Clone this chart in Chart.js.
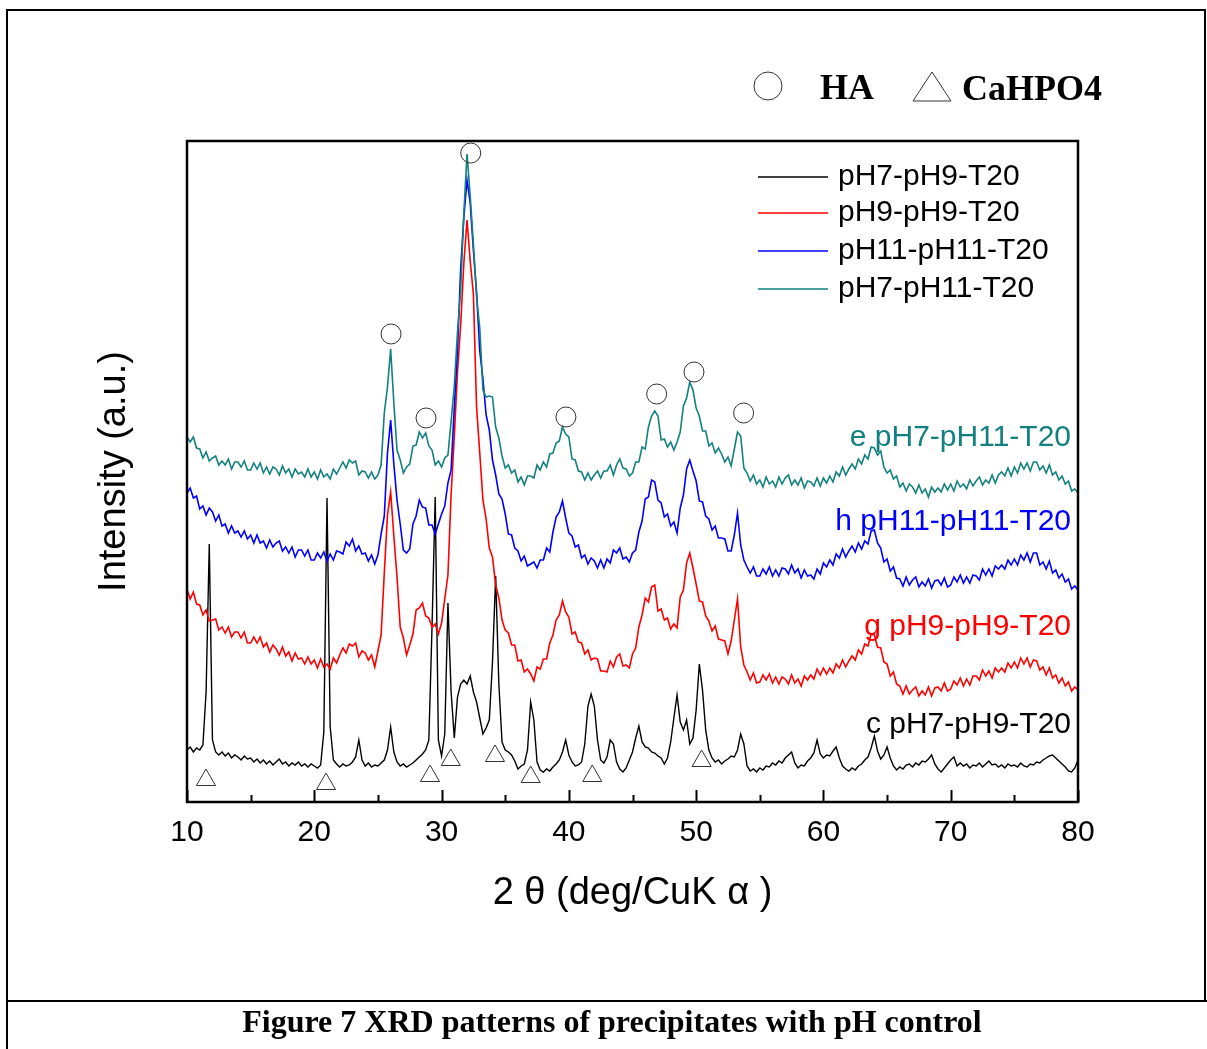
<!DOCTYPE html>
<html>
<head>
<meta charset="UTF-8">
<title>Figure 7 XRD patterns of precipitates with pH control</title>
<script src="https://cdn.jsdelivr.net/npm/chart.js"></script>
<style>
  body { margin: 0; padding: 0; background: #fff; }
  #wrap { width: 1207px; height: 1049px; }
</style>
</head>
<body>
<div id="wrap"><canvas id="xrd" width="1207" height="1049"></canvas></div>
<script>
// 2 theta sampling (deg), every 0.25
var twoTheta = [
  10,10.25,10.5,10.75,11,11.25,11.5,11.75,12,12.25,12.5,12.75,13,13.25,13.5,13.75,14,14.25,14.5,14.75,
  15,15.25,15.5,15.75,16,16.25,16.5,16.75,17,17.25,17.5,17.75,18,18.25,18.5,18.75,19,19.25,19.5,19.75,
  20,20.25,20.5,20.75,21,21.25,21.5,21.75,22,22.25,22.5,22.75,23,23.25,23.5,23.75,24,24.25,24.5,24.75,
  25,25.25,25.5,25.75,26,26.25,26.5,26.75,27,27.25,27.5,27.75,28,28.25,28.5,28.75,29,29.25,29.5,29.75,
  30,30.25,30.5,30.75,31,31.25,31.5,31.75,32,32.25,32.5,32.75,33,33.25,33.5,33.75,34,34.25,34.5,34.75,
  35,35.25,35.5,35.75,36,36.25,36.5,36.75,37,37.25,37.5,37.75,38,38.25,38.5,38.75,39,39.25,39.5,39.75,
  40,40.25,40.5,40.75,41,41.25,41.5,41.75,42,42.25,42.5,42.75,43,43.25,43.5,43.75,44,44.25,44.5,44.75,
  45,45.25,45.5,45.75,46,46.25,46.5,46.75,47,47.25,47.5,47.75,48,48.25,48.5,48.75,49,49.25,49.5,49.75,
  50,50.25,50.5,50.75,51,51.25,51.5,51.75,52,52.25,52.5,52.75,53,53.25,53.5,53.75,54,54.25,54.5,54.75,
  55,55.25,55.5,55.75,56,56.25,56.5,56.75,57,57.25,57.5,57.75,58,58.25,58.5,58.75,59,59.25,59.5,59.75,
  60,60.25,60.5,60.75,61,61.25,61.5,61.75,62,62.25,62.5,62.75,63,63.25,63.5,63.75,64,64.25,64.5,64.75,
  65,65.25,65.5,65.75,66,66.25,66.5,66.75,67,67.25,67.5,67.75,68,68.25,68.5,68.75,69,69.25,69.5,69.75,
  70,70.25,70.5,70.75,71,71.25,71.5,71.75,72,72.25,72.5,72.75,73,73.25,73.5,73.75,74,74.25,74.5,74.75,
  75,75.25,75.5,75.75,76,76.25,76.5,76.75,77,77.25,77.5,77.75,78,78.25,78.5,78.75,79,79.25,79.5,79.75,
  80
];

// intensities (a.u., offset traces as plotted)
var pH7pH9 = [
  52,55,50,54,52,57,110,258,62,50,47,50,46,49,44,47,45,42,46,43,
  44,40,43,39,42,38,41,37,40,43,38,40,36,39,37,40,36,38,35,38,
  36,34,37,70,304,75,42,38,35,38,36,37,40,45,62,42,36,39,35,37,
  36,39,42,52,75,50,40,36,38,35,37,39,42,45,48,52,62,175,305,62,
  46,68,199,110,64,105,118,122,118,126,110,100,84,68,74,82,140,226,118,60,
  52,50,47,41,33,36,38,52,100,82,40,32,30,33,31,35,38,42,50,62,
  47,40,36,37,40,58,96,108,96,62,42,39,45,62,58,40,33,30,34,42,
  50,64,76,60,55,54,50,49,46,44,38,44,60,84,107,80,72,82,58,64,
  92,138,112,72,52,44,40,42,38,41,43,46,45,52,68,58,36,31,33,30,
  34,32,36,35,39,37,41,39,44,47,50,39,34,37,36,41,44,49,62,48,
  44,47,46,51,55,44,36,33,31,34,32,36,38,42,45,54,66,51,43,47,
  55,44,36,32,35,33,37,38,35,39,37,41,40,43,47,38,33,30,34,38,
  42,45,36,39,36,38,34,37,36,39,35,38,41,37,38,35,37,34,38,36,
  37,35,39,36,35,38,37,40,39,42,44,46,47,44,41,38,35,31,30,34,
  42
];
var pH9pH9 = [
  213,203,210,198,197,187,192,181,182,183,172,175,169,175,165,170,170,164,170,159,
  159,165,159,165,155,159,150,157,153,147,155,146,150,141,149,143,144,138,145,138,
  142,134,143,135,138,133,144,139,147,154,149,158,156,159,145,151,149,142,147,135,
  151,167,229,287,310,266,225,175,164,147,157,168,192,194,199,186,184,175,178,168,
  179,203,227,308,366,430,477,539,582,541,508,395,349,302,283,254,245,217,204,182,
  172,169,157,157,141,142,130,133,128,121,135,133,143,143,159,167,182,187,201,190,
  185,168,170,160,159,148,152,142,144,143,131,131,130,141,135,145,148,136,137,134,
  148,154,175,187,204,200,215,217,191,193,182,184,173,178,174,205,212,239,249,234,
  218,201,200,186,181,171,176,163,162,161,148,161,182,203,155,137,130,122,129,119,
  120,127,122,128,119,125,118,125,123,118,127,119,123,116,126,122,127,123,133,127,
  134,128,134,129,138,134,142,135,141,146,142,152,148,158,156,168,167,155,154,140,
  138,126,130,118,116,108,116,108,112,115,106,111,107,115,106,114,115,111,119,111,
  113,121,117,124,116,123,117,126,126,122,132,126,131,124,134,130,134,130,139,134,
  140,134,144,138,144,135,142,141,132,135,127,134,124,127,119,124,116,120,111,115,
  112
];
var pH11pH11 = [
  309,314,304,306,293,296,287,294,290,281,287,276,278,269,276,269,271,265,271,263,
  267,259,267,259,261,254,262,255,259,261,251,255,249,255,245,252,252,246,252,242,
  242,249,244,250,241,248,242,251,250,248,260,256,263,251,256,248,249,241,247,238,
  247,268,286,349,382,338,302,278,252,249,253,278,286,302,295,294,277,277,268,278,
  288,296,319,332,395,451,533,585,622,599,552,510,451,423,387,372,342,327,308,303,
  288,268,267,254,251,241,246,236,238,240,234,242,242,254,250,270,285,290,301,284,
  269,266,255,257,244,247,238,244,241,234,242,234,243,239,252,249,254,243,245,240,
  249,252,270,281,303,305,322,320,302,299,285,288,276,280,269,294,307,333,342,331,
  321,301,300,286,283,272,276,264,264,263,251,251,267,289,257,242,235,229,235,226,
  226,233,228,235,226,232,226,234,233,228,237,229,233,224,232,226,227,223,233,228,
  239,235,242,237,248,244,253,245,251,256,250,259,253,261,258,271,272,259,254,240,
  243,231,235,224,223,216,225,217,222,225,215,220,216,223,214,221,222,217,224,215,
  217,225,220,227,219,225,219,227,226,222,233,227,233,226,236,233,237,233,242,237,
  243,237,247,242,249,240,249,249,237,240,233,241,229,232,224,228,220,223,213,216,
  212
];
var pH7pH11 = [
  365,360,365,354,353,344,350,341,344,346,337,341,337,343,333,340,340,335,341,332,
  332,339,333,339,329,335,328,335,333,327,336,329,333,325,333,328,330,325,333,325,
  330,323,332,325,328,323,333,328,334,340,334,342,339,341,327,331,330,324,330,323,
  327,337,389,415,453,399,352,342,329,335,338,356,357,370,364,369,356,352,337,341,
  335,344,347,381,416,470,512,589,648,606,558,505,474,412,405,406,405,375,364,346,
  334,337,329,332,320,325,317,326,326,324,337,332,340,335,348,349,359,361,375,368,
  365,343,342,331,330,322,329,322,327,331,324,331,331,337,327,337,343,334,333,326,
  329,340,340,355,353,375,386,391,386,362,363,355,360,352,360,370,396,404,420,412,
  394,386,371,371,356,359,349,354,348,340,345,336,353,370,366,334,329,321,327,318,
  322,315,325,318,321,315,325,318,324,327,317,322,317,324,314,321,320,316,324,316,
  324,319,326,320,330,326,335,327,333,338,333,343,338,347,343,355,354,347,351,335,
  329,332,323,326,315,319,311,318,315,309,317,309,313,305,315,310,314,310,318,312,
  318,311,321,315,318,313,322,316,321,325,317,322,319,327,319,327,330,326,334,326,
  335,329,339,333,339,331,340,340,332,336,329,337,327,330,322,326,318,321,311,313,
  309
];

// phase markers [2theta, height]
var haPeaks = [[26.03, 468], [28.78, 384], [32.29, 649], [39.77, 385], [46.9, 408], [49.83, 430], [53.73, 389]];
var cahpo4Peaks = [[11.49, 22], [20.92, 18], [29.09, 26], [30.72, 42], [34.2, 46], [37.0, 25], [41.84, 26], [50.43, 41]];

var seriesNames = ['pH7-pH9-T20', 'pH9-pH9-T20', 'pH11-pH11-T20', 'pH7-pH11-T20'];
var seriesTags = ['c pH7-pH9-T20', 'g pH9-pH9-T20', 'h pH11-pH11-T20', 'e pH7-pH11-T20'];
var seriesColors = ['#000000', '#ff0000', '#0000ff', '#138080'];
var xTicks = [10, 20, 30, 40, 50, 60, 70, 80];
var xMinorTicks = [15, 25, 35, 45, 55, 65, 75];

var SANS = '"Liberation Sans", Arial, sans-serif';
var SERIF = '"Liberation Serif", "Times New Roman", serif';

function toPoints(ys) {
  return twoTheta.map(function (t, i) { return { x: t, y: ys[i] }; });
}
function toMarks(list) {
  return list.map(function (p) { return { x: p[0], y: p[1] }; });
}

function traceSet(name, ys, color, width) {
  return {
    label: name,
    data: toPoints(ys),
    borderColor: color,
    borderWidth: width,
    pointRadius: 0,
    tension: 0,
    fill: false
  };
}

var decor = {
  id: 'decor',
  afterDraw: function (chart) {
    var c = chart.ctx, a = chart.chartArea, xs = chart.scales.x;
    c.save();

    // figure frame + caption rule
    c.strokeStyle = '#000';
    c.lineWidth = 2;
    c.beginPath();
    c.moveTo(7, 1049); c.lineTo(7, 10); c.lineTo(1205, 10); c.lineTo(1205, 1001);
    c.moveTo(7, 1001); c.lineTo(1207, 1001);
    c.stroke();

    // plot box
    c.lineWidth = 2.5;
    c.strokeRect(a.left, a.top, a.right - a.left, a.bottom - a.top);

    // inward ticks
    c.lineWidth = 2;
    c.beginPath();
    xTicks.forEach(function (v) {
      var px = Math.round(xs.getPixelForValue(v)) + 0.5;
      c.moveTo(px, a.bottom); c.lineTo(px, a.bottom - 12);
    });
    xMinorTicks.forEach(function (v) {
      var px = Math.round(xs.getPixelForValue(v)) + 0.5;
      c.moveTo(px, a.bottom); c.lineTo(px, a.bottom - 7);
    });
    c.stroke();

    // legend
    var rows = [177, 213, 251, 289];
    c.font = '30px ' + SANS;
    c.textBaseline = 'middle';
    c.textAlign = 'left';
    c.lineWidth = 1.5;
    for (var i = 0; i < 4; i++) {
      c.strokeStyle = seriesColors[i];
      c.beginPath();
      c.moveTo(758, rows[i]); c.lineTo(828, rows[i]);
      c.stroke();
      c.fillStyle = '#000';
      c.fillText(seriesNames[i], 838, rows[i]);
    }

    // trace tags
    var tagY = [725, 627, 522, 438];
    c.textAlign = 'right';
    for (var j = 0; j < 4; j++) {
      c.fillStyle = seriesColors[j];
      c.fillText(seriesTags[j], 1071, tagY[j]);
    }

    // phase key above the plot
    c.strokeStyle = '#333';
    c.lineWidth = 1;
    c.beginPath();
    c.arc(768, 86, 14, 0, Math.PI * 2);
    c.stroke();
    c.beginPath();
    c.moveTo(932, 72); c.lineTo(913, 101); c.lineTo(951, 101); c.closePath();
    c.stroke();
    c.fillStyle = '#000';
    c.textAlign = 'left';
    c.textBaseline = 'alphabetic';
    c.font = 'bold 36px ' + SERIF;
    c.fillText('HA', 820, 99);
    c.fillText('CaHPO4', 962, 100);

    // caption
    c.textAlign = 'center';
    c.font = 'bold 32px ' + SERIF;
    c.fillText('Figure 7 XRD patterns of precipitates with pH control', 612, 1032);

    c.restore();
  }
};

var chart = new Chart(document.getElementById('xrd').getContext('2d'), {
  type: 'line',
  data: {
    datasets: [
      {
        label: 'HA', type: 'scatter', data: toMarks(haPeaks),
        pointStyle: 'circle', pointRadius: 10, borderColor: '#333', borderWidth: 1,
        backgroundColor: 'rgba(0,0,0,0)', showLine: false
      },
      {
        label: 'CaHPO4', type: 'scatter', data: toMarks(cahpo4Peaks),
        pointStyle: 'triangle', pointRadius: 11, borderColor: '#333', borderWidth: 1,
        backgroundColor: 'rgba(0,0,0,0)', showLine: false
      },
      traceSet(seriesNames[3], pH7pH11, seriesColors[3], 1.6),
      traceSet(seriesNames[2], pH11pH11, seriesColors[2], 1.6),
      traceSet(seriesNames[1], pH9pH9, seriesColors[1], 1.6),
      traceSet(seriesNames[0], pH7pH9, seriesColors[0], 1.4)
    ]
  },
  options: {
    responsive: false,
    animation: false,
    devicePixelRatio: 1,
    layout: { padding: { top: 141, right: 129, left: 0, bottom: 0 } },
    plugins: {
      legend: { display: false },
      tooltip: { enabled: false }
    },
    scales: {
      x: {
        type: 'linear',
        min: 10,
        max: 80,
        grid: { display: false },
        border: { display: false },
        afterBuildTicks: function (s) {
          s.ticks = xTicks.map(function (v) { return { value: v }; });
        },
        ticks: {
          color: '#000',
          font: { family: SANS, size: 30 },
          padding: 5,
          maxRotation: 0,
          autoSkip: false
        },
        title: {
          display: true,
          text: '2 θ (deg/CuK α )',
          color: '#000',
          font: { family: SANS, size: 38 },
          padding: { top: 0, bottom: 133 }
        },
        afterFit: function (s) { s.height = 247; }
      },
      y: {
        min: 0,
        max: 661,
        grid: { display: false },
        border: { display: false },
        ticks: { display: false },
        title: {
          display: true,
          text: 'Intensity (a.u.)',
          color: '#000',
          font: { family: SANS, size: 38 },
          padding: { top: 92, bottom: 0 }
        },
        afterFit: function (s) { s.width = 187; }
      }
    }
  },
  plugins: [decor]
});
</script>
</body>
</html>
